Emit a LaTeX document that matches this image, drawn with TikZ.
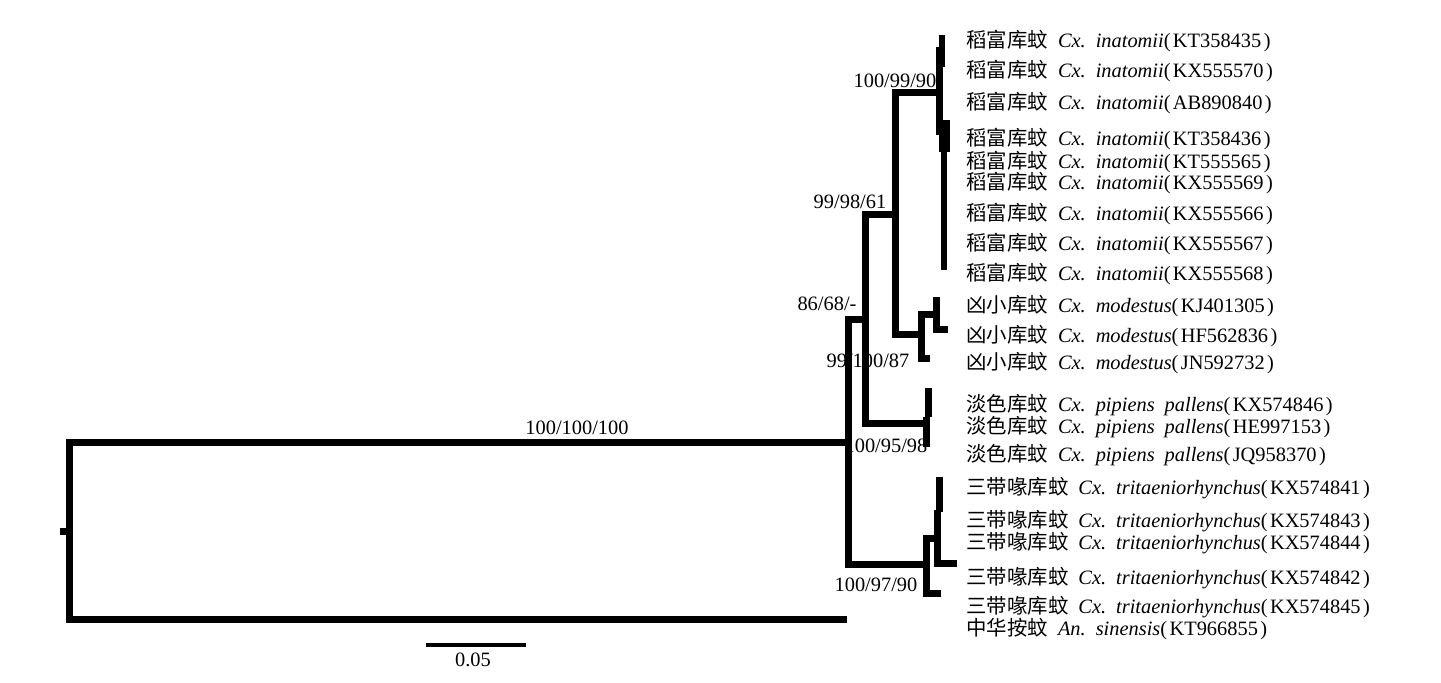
\documentclass[tikz,border=0pt]{standalone}
\usepackage{fontspec}
\setmainfont{Liberation Serif}
\newfontfamily\cjk{Noto Sans CJK SC}
\newcommand\taxon[4]{{\cjk #1}\hspace{5pt}\textit{#2.\hspace{5pt}#3}(\kern1.2pt#4\kern1.2pt)}
\begin{document}
\begin{tikzpicture}[x=0.5pt,y=-0.5pt,
  br/.style={line width=3.5pt,line join=miter,line cap=butt},
  blk/.style={fill=black,draw=none},
  txt/.style={font=\fontsize{10.2}{12}\selectfont,inner sep=0pt},
  boot/.style={txt,anchor=base},
  tiplabel/.style={txt,anchor=base west},
  scalebar/.style={line width=2pt}]
\useasboundingbox (0,0) rectangle (1441,683);
% ---- coordinates of branch points ----
\coordinate (rootT) at (60,532);
\coordinate (root) at (69.5,532);
\coordinate (rA) at (69.5,443);
\coordinate (rS) at (69.5,620);
\coordinate (A) at (848.5,443);
\coordinate (sin) at (847,620);
\coordinate (Atop) at (848.5,320);
\coordinate (Abot) at (848.5,565);
\coordinate (B) at (865,320);
\coordinate (Btop) at (865,215);
\coordinate (Bbot) at (865,424);
\coordinate (D) at (895,215);
\coordinate (Dtop) at (895,93);
\coordinate (Dbot) at (895,335);
\coordinate (Ina) at (939,93);
\coordinate (Mod) at (921.5,335);
\coordinate (Modtop) at (921.5,315);
\coordinate (Modbot) at (921.5,358.5);
\coordinate (JN) at (930,358.5);
\coordinate (Mod2) at (936.5,315);
\coordinate (Mod2top) at (936.5,297);
\coordinate (Mod2bot) at (936.5,330);
\coordinate (HF) at (948,330);
\coordinate (Pal) at (926.5,424);
\coordinate (Tri) at (926.5,565);
\coordinate (Tritop) at (926.5,538.5);
\coordinate (Tribot) at (926.5,593.5);
\coordinate (T45) at (941,593.5);
\coordinate (Tri2) at (937.5,538.5);
\coordinate (Tri2bot) at (937.5,563.5);
\coordinate (T42) at (957,563.5);
\coordinate (sbL) at (426,645.5);
\coordinate (sbR) at (526,645.5);
% ---- branches ----
\draw[br] (rootT) -- (root);
\draw[br] (A) -- (rA) -- (rS) -- (sin);
\draw[br] (B) -- (Atop) -- (Abot) -- (Tri);
\draw[br] (D) -- (Btop) -- (Bbot) -- (Pal);
\draw[br] (Ina) -- (Dtop) -- (Dbot) -- (Mod);
\draw[br] (Mod2) -- (Modtop) -- (Modbot) -- (JN);
\draw[br] (Mod2top) -- (Mod2bot) -- (HF);
\draw[br] (Tri2) -- (Tritop) -- (Tribot) -- (T45);
\draw[br] (Tri2) -- (Tri2bot) -- (T42);
% fine structure of terminal clusters
\fill[blk] (939,35) rectangle (945,50);
\fill[blk] (936,47) rectangle (945,67);
\fill[blk] (936,67) rectangle (943,135);
\fill[blk] (939,120) rectangle (950,152);
\fill[blk] (941,152) rectangle (947,270);
\fill[blk] (923,417) rectangle (930,447);
\fill[blk] (925,388) rectangle (932,417);
\fill[blk] (936,477) rectangle (943,512);
\fill[blk] (934,510) rectangle (941,540);
% ---- scale bar ----
\draw[scalebar] (sbL) -- (sbR);
\node[boot] (sblab) at (473,667) {0.05};
% ---- support values ----
\node[boot] (b1) at (577,435) {100/100/100};
\node[boot] (b2) at (895,88) {100/99/90};
\node[boot] (b3) at (850,209) {99/98/61};
\node[boot] (b4) at (827,311) {86/68/-};
\node[boot] (b5) at (868,368) {99/100/87};
\node[boot] (b6) at (886,453) {100/95/98};
\node[boot] (b7) at (876,592) {100/97/90};
% ---- taxon labels ----
\node[tiplabel] (t1) at (966,48) {\taxon{稻富库蚊}{Cx}{inatomii}{KT358435}};
\node[tiplabel] (t2) at (966,78) {\taxon{稻富库蚊}{Cx}{inatomii}{KX555570}};
\node[tiplabel] (t3) at (966,110) {\taxon{稻富库蚊}{Cx}{inatomii}{AB890840}};
\node[tiplabel] (t4) at (966,146) {\taxon{稻富库蚊}{Cx}{inatomii}{KT358436}};
\node[tiplabel] (t5) at (966,169) {\taxon{稻富库蚊}{Cx}{inatomii}{KT555565}};
\node[tiplabel] (t6) at (966,190) {\taxon{稻富库蚊}{Cx}{inatomii}{KX555569}};
\node[tiplabel] (t7) at (966,221) {\taxon{稻富库蚊}{Cx}{inatomii}{KX555566}};
\node[tiplabel] (t8) at (966,251) {\taxon{稻富库蚊}{Cx}{inatomii}{KX555567}};
\node[tiplabel] (t9) at (966,281) {\taxon{稻富库蚊}{Cx}{inatomii}{KX555568}};
\node[tiplabel] (t10) at (966,313) {\taxon{凶小库蚊}{Cx}{modestus}{KJ401305}};
\node[tiplabel] (t11) at (966,343) {\taxon{凶小库蚊}{Cx}{modestus}{HF562836}};
\node[tiplabel] (t12) at (966,370) {\taxon{凶小库蚊}{Cx}{modestus}{JN592732}};
\node[tiplabel] (t13) at (966,412) {\taxon{淡色库蚊}{Cx}{pipiens\hspace{5pt}pallens}{KX574846}};
\node[tiplabel] (t14) at (966,434) {\taxon{淡色库蚊}{Cx}{pipiens\hspace{5pt}pallens}{HE997153}};
\node[tiplabel] (t15) at (966,462) {\taxon{淡色库蚊}{Cx}{pipiens\hspace{5pt}pallens}{JQ958370}};
\node[tiplabel] (t16) at (966,495) {\taxon{三带喙库蚊}{Cx}{tritaeniorhynchus}{KX574841}};
\node[tiplabel] (t17) at (966,528) {\taxon{三带喙库蚊}{Cx}{tritaeniorhynchus}{KX574843}};
\node[tiplabel] (t18) at (966,550) {\taxon{三带喙库蚊}{Cx}{tritaeniorhynchus}{KX574844}};
\node[tiplabel] (t19) at (966,585) {\taxon{三带喙库蚊}{Cx}{tritaeniorhynchus}{KX574842}};
\node[tiplabel] (t20) at (966,614) {\taxon{三带喙库蚊}{Cx}{tritaeniorhynchus}{KX574845}};
\node[tiplabel] (t21) at (966,636) {\taxon{中华按蚊}{An}{sinensis}{KT966855}};
\end{tikzpicture}
\end{document}
